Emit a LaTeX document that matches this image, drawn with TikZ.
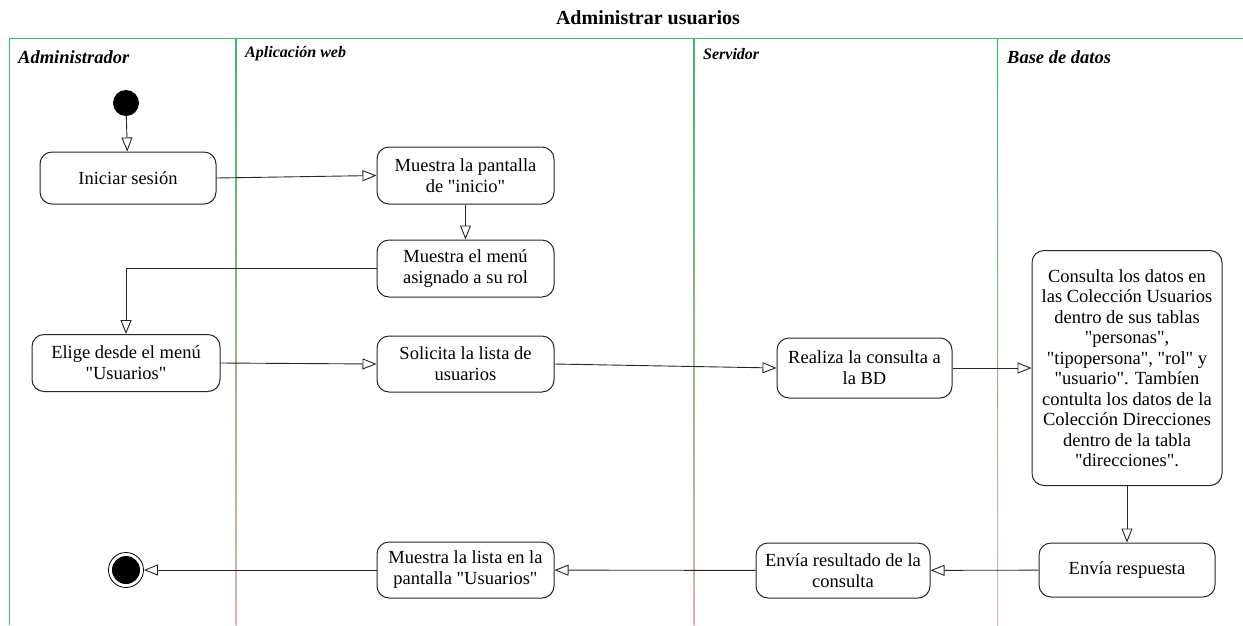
\documentclass[tikz,border=0pt]{standalone}
\usepackage{fontspec}
\setmainfont{Liberation Serif}[Ligatures=TeXOff]
\usetikzlibrary{arrows.meta}
\definecolor{lanegreen}{RGB}{60,185,100}
\definecolor{lanepink}{RGB}{228,175,175}
\tikzset{
  act/.style={draw=black!85, line width=1pt, rounded corners=12pt, align=center,
    inner sep=0pt, fill=white, font=\fontsize{18.5}{21}\selectfont},
  flow/.style={draw=black!85, line width=0.9pt, -{Triangle[open,length=14pt,width=11pt]}},
  lanebig/.style={anchor=west, inner sep=0pt, font=\fontsize{18.5}{20}\selectfont\bfseries\itshape},
  lanesmall/.style={anchor=west, inner sep=0pt, font=\fontsize{16}{18}\selectfont\bfseries\itshape},
  divider/.style={top color=lanegreen, bottom color=lanepink, draw=none},
}
\begin{document}
\begin{tikzpicture}[x=1pt,y=-1pt]
\useasboundingbox (0,0) rectangle (1243,625);
% frame and lanes
\draw[lanegreen, line width=1pt] (9,625) -- (9,38) -- (1243,38);
\shade[divider] (235.5,38) rectangle (236.7,625);
\shade[divider] (693.5,38) rectangle (694.7,625);
\shade[divider] (997,38) rectangle (998.2,625);
% title and lane labels
\node[font=\fontsize{20}{24}\selectfont\bfseries] (title) at (648,18) {Administrar usuarios};
\node[lanebig] (l1) at (18,57) {Administrador};
\node[lanesmall] (l2) at (245,54) {Aplicación web};
\node[lanesmall] (l3) at (703,54) {Servidor};
\node[lanebig] (l4) at (1007,57) {Base de datos};
% nodes
\node[circle, fill=black, minimum size=26pt, inner sep=0pt] (start) at (126,103) {};
\node[act, minimum width=176pt, minimum height=52pt] (ini) at (128,178) {Iniciar sesión};
\node[act, minimum width=177pt, minimum height=57pt] (pant) at (465.5,175.5) {Muestra la pantalla\\de "inicio"};
\node[act, minimum width=177pt, minimum height=57pt] (menu) at (465.5,268.5) {Muestra el menú\\asignado a su rol};
\node[act, minimum width=188pt, minimum height=57pt] (elige) at (126,363) {Elige desde el menú\\"Usuarios"};
\node[act, minimum width=177pt, minimum height=56pt] (soli) at (465.5,364) {Solicita la lista de\\usuarios};
\node[act, minimum width=175pt, minimum height=60pt] (real) at (864.5,368) {Realiza la consulta a\\la BD};
\node[act, minimum width=190pt, minimum height=235pt, font=\fontsize{18.5}{20.5}\selectfont] (cons) at (1127,368)
  {Consulta los datos en\\las Colección Usuarios\\dentro de sus tablas\\"personas",\\"tipopersona", "rol" y\\"usuario". Tambíen\\contulta los datos de la\\Colección Direcciones\\dentro de la tabla\\"direcciones".};
\node[act, minimum width=176pt, minimum height=54pt] (resp) at (1127,570) {Envía respuesta};
\node[act, minimum width=174pt, minimum height=55pt] (res) at (843,570.5) {Envía resultado de la\\consulta};
\node[act, minimum width=177pt, minimum height=56pt] (lista) at (465.5,570) {Muestra la lista en la\\pantalla "Usuarios"};
\node[circle, draw=black, line width=0.8pt, minimum size=35pt, inner sep=0pt] (end) at (126,570) {};
\node[circle, fill=black, minimum size=28pt, inner sep=0pt] (endin) at (end) {};
% connectors
\draw[flow] (start) -- (ini);
\draw[flow] (ini.east) -- (pant.west);
\draw[flow] (pant) -- (menu);
\draw[flow] (menu.west) -| (elige.north);
\draw[flow] (elige.east) -- (soli.west);
\draw[flow] (soli.east) -- (real.west);
\draw[flow] (real.east) -- (cons.west);
\draw[flow] (cons) -- (resp);
\draw[flow] (resp) -- (res);
\draw[flow] (res) -- (lista);
\draw[flow] (lista) -- (end);
\end{tikzpicture}
\end{document}
